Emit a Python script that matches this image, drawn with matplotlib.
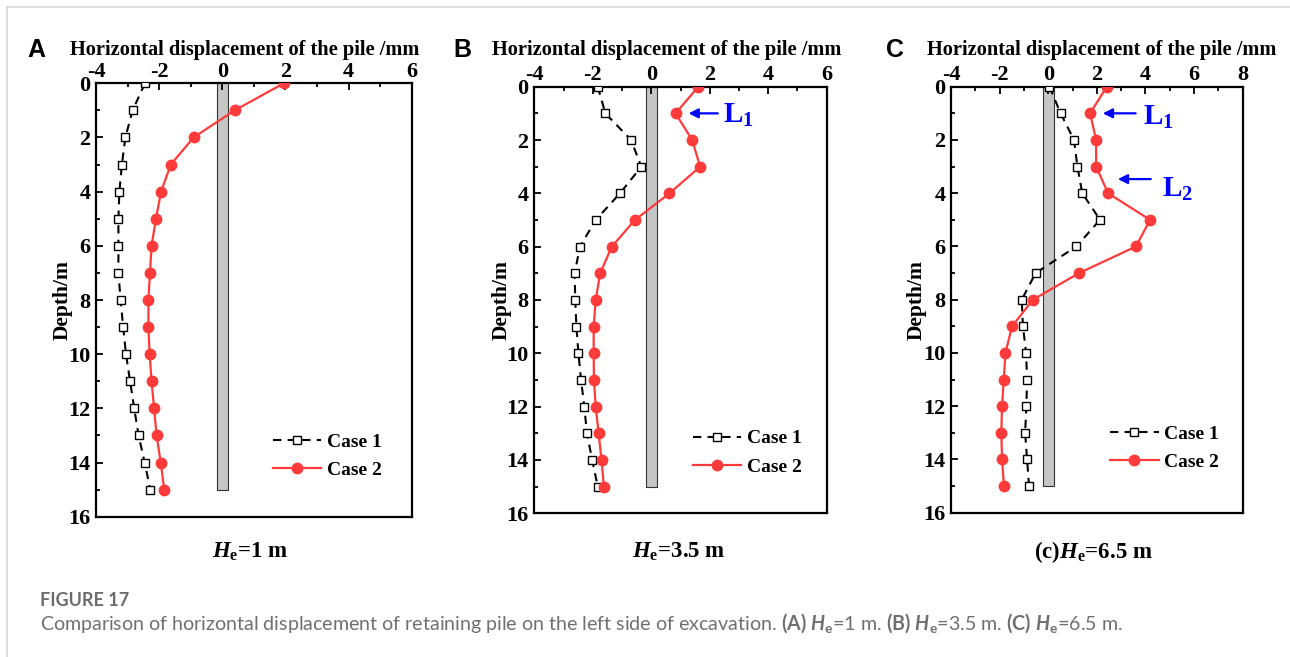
import matplotlib
matplotlib.use('Agg')
import matplotlib.pyplot as plt

# fonts: Times-like bold for the chart, rounded sans for the caption
plt.rcParams['font.family'] = 'Liberation Serif'
plt.rcParams['font.weight'] = 'bold'
plt.rcParams['axes.labelweight'] = 'bold'
plt.rcParams['axes.unicode_minus'] = False
plt.rcParams['mathtext.fontset'] = 'custom'
plt.rcParams['mathtext.rm'] = 'Liberation Serif:bold'
plt.rcParams['mathtext.it'] = 'Liberation Serif:bold:italic'
plt.rcParams['mathtext.cal'] = 'Lato:italic'
plt.rcParams['mathtext.sf'] = 'Lato'
plt.rcParams['mathtext.bf'] = 'Lato:bold'

# depth of each measuring point (m)
depth = [0, 1, 2, 3, 4, 5, 6, 7, 8, 9, 10, 11, 12, 13, 14, 15]

# horizontal displacement (mm)
a_case1 = [-2.45, -2.84, -3.07, -3.18, -3.26, -3.29, -3.29, -3.29, -3.22, -3.14,
           -3.05, -2.92, -2.79, -2.65, -2.46, -2.28]
a_case2 = [1.95, 0.39, -0.91, -1.63, -1.94, -2.10, -2.24, -2.29, -2.34, -2.34,
           -2.30, -2.24, -2.16, -2.08, -1.95, -1.84]

b_case1 = [-1.83, -1.57, -0.69, -0.34, -1.07, -1.90, -2.44, -2.62, -2.60, -2.56,
           -2.49, -2.40, -2.29, -2.20, -2.02, -1.83]
b_case2 = [1.61, 0.83, 1.40, 1.67, 0.62, -0.56, -1.35, -1.75, -1.90, -1.97,
           -1.97, -1.96, -1.90, -1.80, -1.70, -1.62]

c_case1 = [0.05, 0.51, 1.06, 1.20, 1.40, 2.13, 1.16, -0.52, -1.09, -1.04,
           -0.91, -0.87, -0.90, -0.95, -0.87, -0.79]
c_case2 = [2.41, 1.72, 1.97, 1.97, 2.46, 4.19, 3.61, 1.27, -0.63, -1.49,
           -1.76, -1.83, -1.90, -1.93, -1.90, -1.82]

pile_depth = 15
panel_letters = ['A', 'B', 'C']
bottom_labels = [r'$H_\mathrm{e}$=1 m', r'$H_\mathrm{e}$=3.5 m', r'(c)$H_\mathrm{e}$=6.5 m']
xmax = [6, 6, 8]

W, H = 1290, 657
fig = plt.figure(figsize=(W / 100, H / 100), dpi=100)


def px_box(left, top, right, bottom):
    return [left / W, 1 - bottom / H, (right - left) / W, (bottom - top) / H]


boxes = [px_box(96, 83.3, 411.7, 516.7),
         px_box(534.3, 86.7, 826.7, 513.3),
         px_box(951, 86.7, 1242.7, 512.7)]
pile_half = [0.17, 0.19, 0.22]
title_x = [245, 667, 1102]
letter_x = [36, 462, 895]
bottom_x = [250, 679, 1093]
ylabel_x = [-0.073, -0.077, -0.083]
legend_pos = [(0.56, 0.14), (0.542, 0.142), (0.545, 0.152)]
red = '#ff3a3a'

data = [(a_case1, a_case2), (b_case1, b_case2), (c_case1, c_case2)]

axes = []
for i, (c1, c2) in enumerate(data):
    ax = fig.add_axes(boxes[i])
    axes.append(ax)

    # retaining pile
    ax.fill_betweenx([0, pile_depth], -pile_half[i], pile_half[i],
                     facecolor='#c6c6c6', edgecolor='#333333', lw=0.8, zorder=1)

    ax.plot(c1, depth, color='black', ls=(0, (4, 3)), lw=1.5, marker='s',
            ms=6, mfc='white', mec='black', mew=1, label='Case 1', zorder=3)
    ax.plot(c2, depth, color=red, lw=1.6, marker='o', ms=7.5,
            mfc=red, mec=red, label='Case 2', zorder=4)

    ax.set_xlim(-4, xmax[i])
    ax.set_ylim(16, 0)
    ax.set_xticks(range(-4, xmax[i] + 1, 2))
    ax.set_xticks(range(-4, xmax[i] + 1, 1), minor=True)
    ax.set_yticks(range(0, 17, 2))
    ax.set_yticks(range(0, 17, 1), minor=True)
    ax.xaxis.tick_top()
    ax.tick_params(which='both', direction='in', top=True, bottom=False,
                   left=True, right=False, width=1.3, labelsize=16)
    ax.tick_params(which='major', length=5)
    ax.tick_params(which='minor', length=3)
    ax.tick_params(axis='x', pad=1)
    ax.tick_params(axis='y', pad=4)
    for lab in ax.get_xticklabels() + ax.get_yticklabels():
        lab.set_fontweight('bold')
    for s in ax.spines.values():
        s.set_linewidth(1.6)

    ax.set_ylabel('Depth/m', fontsize=15.5, fontweight='bold')
    ax.yaxis.set_label_coords(ylabel_x[i], 0.5)

    ax.legend(loc='center left', bbox_to_anchor=legend_pos[i], frameon=False,
              fontsize=14, handlelength=2.5, handletextpad=0.3,
              labelspacing=0.55, borderpad=0, borderaxespad=0)

    fig.text(title_x[i] / W, 1 - 50 / H, 'Horizontal displacement of the pile /mm',
             ha='center', va='center', fontsize=14.7, fontweight='bold')
    fig.text(letter_x[i] / W, 1 - 50 / H, panel_letters[i], ha='center', va='center',
             fontsize=18, family='Liberation Sans', weight='bold')
    fig.text(bottom_x[i] / W, 1 - 552 / H, bottom_labels[i], ha='center',
             va='center', fontsize=16.5)

# arrows marking the anchor levels
arrow = dict(arrowstyle='-|>', color='blue', lw=1.6, mutation_scale=14)
axes[1].annotate('', xy=(1.18, 1), xytext=(2.37, 1), arrowprops=arrow)
axes[1].text(2.45, 1.35, r'L$_\mathrm{1}$', color='blue', fontsize=21, va='baseline')
axes[2].annotate('', xy=(2.13, 1), xytext=(3.71, 1), arrowprops=arrow)
axes[2].text(3.91, 1.44, r'L$_\mathrm{1}$', color='blue', fontsize=21, va='baseline')
axes[2].annotate('', xy=(2.75, 3.47), xytext=(4.33, 3.47), arrowprops=arrow)
axes[2].text(4.67, 4.13, r'L$_\mathrm{2}$', color='blue', fontsize=21, va='baseline')

# page frame and caption
fig.add_artist(plt.Line2D([7 / W, 7 / W], [0, 1 - 7 / H], color='#d8d8d8', lw=1.2))
fig.add_artist(plt.Line2D([7 / W, 1], [1 - 7 / H, 1 - 7 / H], color='#d8d8d8', lw=1.2))
fig.text(40 / W, 1 - 600 / H, 'FIGURE 17', ha='left', va='center', fontsize=13,
         family='Lato', weight='bold', color='#6b6b6b')
caption = ('Comparison of horizontal displacement of retaining pile on the left side of '
           r'excavation. $\mathbf{(A)}$ $\mathcal{H}_\mathsf{e}$=1 m. '
           r'$\mathbf{(B)}$ $\mathcal{H}_\mathsf{e}$=3.5 m. '
           r'$\mathbf{(C)}$ $\mathcal{H}_\mathsf{e}$=6.5 m.')
fig.text(40 / W, 1 - 623 / H, caption, ha='left', va='center', fontsize=14.1,
         family='Lato', weight='normal', color='#707070')

fig.savefig('out.png', dpi=100)
